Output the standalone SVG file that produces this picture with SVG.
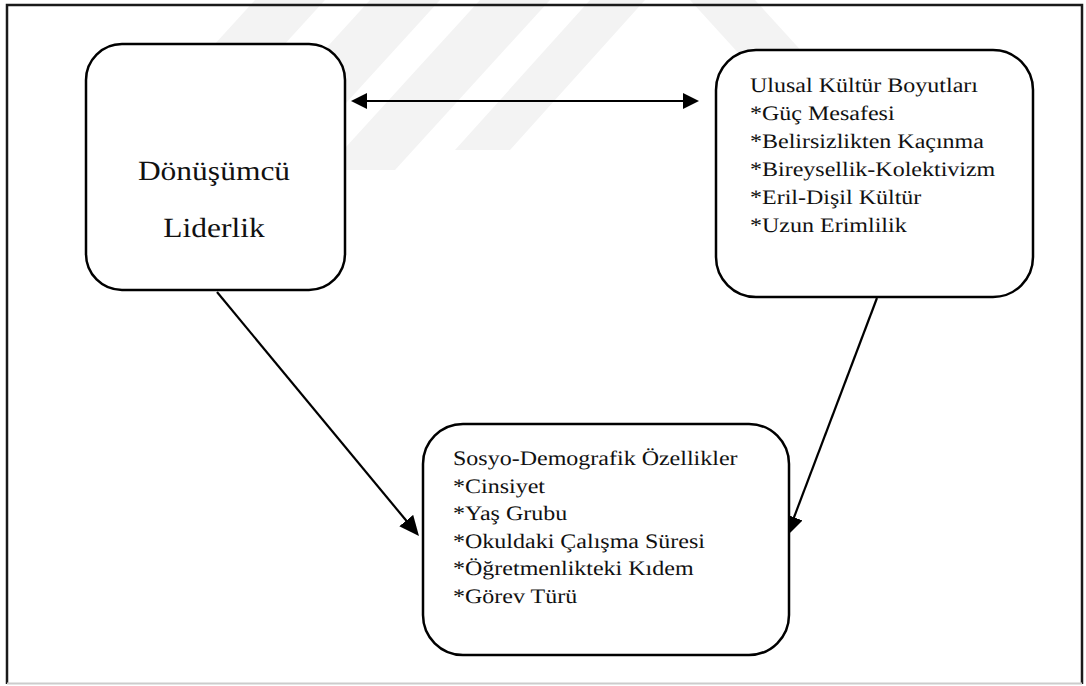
<svg xmlns="http://www.w3.org/2000/svg" width="1086" height="686" viewBox="0 0 1086 686">
  <style>
    .box { fill: #ffffff; stroke: #000000; stroke-width: 2.5; }
    .txt { font-family: 'Liberation Serif', Tinos, 'DejaVu Serif', serif; fill: #111111; text-rendering: geometricPrecision; }
    .conn { stroke: #000000; stroke-width: 2.2; fill: none; }
    .wm { fill: #f3f3f3; }
  </style>
  <defs>
    <marker id="ah" markerUnits="userSpaceOnUse" markerWidth="18" markerHeight="16" refX="8" refY="8" orient="auto-start-reverse">
      <path d="M0,0 L16,8 L0,16 z" fill="#000000"/>
    </marker>
    <marker id="ahd" markerUnits="userSpaceOnUse" markerWidth="22" markerHeight="18" refX="10" refY="9" orient="auto">
      <path d="M0,0 L20,9 L0,18 z" fill="#000000"/>
    </marker>
  </defs>
  <rect x="0" y="0" width="1086" height="686" fill="#ffffff"/>
  <g id="watermark">
    <polygon class="wm" points="255,0 325,0 170,170 100,170"/>
    <polygon class="wm" points="370,0 440,0 285,170 215,170"/>
    <polygon class="wm" points="480,0 550,0 395,170 325,170"/>
    <polygon class="wm" points="590,0 645,0 510,150 455,150"/>
    <polygon class="wm" points="690,0 755,0 910,170 845,170"/>
  </g>
  <g id="frame">
    <path d="M7,684 L7,5 L1082,5 L1082,684" fill="none" stroke="#1a1a1a" stroke-width="2.5"/>
    <line x1="7" y1="683.5" x2="1082" y2="683.5" stroke="#cccccc" stroke-width="2"/>
  </g>
  <g id="connectors">
    <line class="conn" x1="359" y1="101" x2="691" y2="101" stroke-width="2.6" marker-start="url(#ah)" marker-end="url(#ah)"/>
    <line class="conn" x1="217" y1="292" x2="412.6" y2="528.3" marker-end="url(#ahd)"/>
    <line class="conn" x1="877" y1="298" x2="790.5" y2="526.6" marker-end="url(#ahd)"/>
  </g>
  <g id="node-donusumcu">
    <rect class="box" x="86" y="44" width="259" height="246" rx="36" ry="36"/>
    <text class="txt" font-family="Liberation Serif, serif" font-size="31.5" text-anchor="middle" transform="translate(214,180) scale(1,0.88)">Dönüşümcü</text>
    <text class="txt" font-family="Liberation Serif, serif" font-size="31.5" text-anchor="middle" transform="translate(214,237) scale(1,0.88)">Liderlik</text>
  </g>
  <g id="node-ulusal">
    <rect class="box" x="716" y="50" width="317" height="247" rx="40" ry="40"/>
    <text class="txt" font-family="Liberation Serif, serif" font-size="24" transform="translate(750,92) scale(1,0.86)">
      <tspan x="0" y="0">Ulusal Kültür Boyutları</tspan>
      <tspan x="0" y="32.6">*Güç Mesafesi</tspan>
      <tspan x="0" y="65.2">*Belirsizlikten Kaçınma</tspan>
      <tspan x="0" y="97.8">*Bireysellik-Kolektivizm</tspan>
      <tspan x="0" y="130.4">*Eril-Dişil Kültür</tspan>
      <tspan x="0" y="163">*Uzun Erimlilik</tspan>
    </text>
  </g>
  <g id="node-sosyo">
    <rect class="box" x="423" y="424" width="366" height="231" rx="40" ry="40"/>
    <text class="txt" font-family="Liberation Serif, serif" font-size="24" transform="translate(453,465) scale(1,0.86)">
      <tspan x="0" y="0">Sosyo-Demografik Özellikler</tspan>
      <tspan x="0" y="32.1">*Cinsiyet</tspan>
      <tspan x="0" y="64.2">*Yaş Grubu</tspan>
      <tspan x="0" y="96.3">*Okuldaki Çalışma Süresi</tspan>
      <tspan x="0" y="128.4">*Öğretmenlikteki Kıdem</tspan>
      <tspan x="0" y="160.5">*Görev Türü</tspan>
    </text>
  </g>
</svg>
